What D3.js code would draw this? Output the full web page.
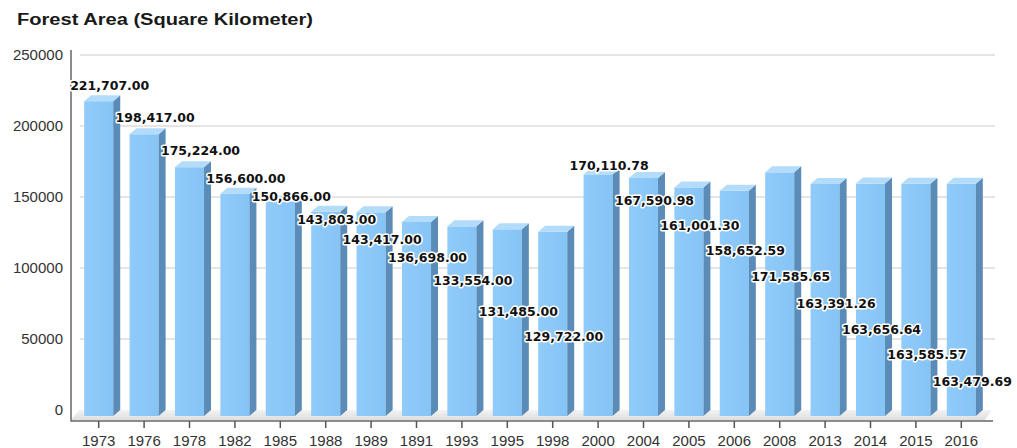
<!DOCTYPE html>
<html>
<head>
<meta charset="utf-8">
<script src="https://cdn.jsdelivr.net/npm/d3@7"></script>
<style>
  html, body { margin: 0; padding: 0; background: #ffffff; }
  svg { display: block; }
</style>
</head>
<body>
<svg id="chart" width="1017" height="448"></svg>
<script>
// ---- data ----
const categories = ["1973","1976","1978","1982","1985","1988","1989","1891","1993","1995","1998",
                    "2000","2004","2005","2006","2008","2013","2014","2015","2016"];
const forestArea = [221707.00, 198417.00, 175224.00, 156600.00, 150866.00, 143803.00, 143417.00,
                    136698.00, 133554.00, 131485.00, 129722.00, 170110.78, 167590.98, 161001.30,
                    158652.59, 171585.65, 163391.26, 163656.64, 163585.57, 163479.69];
// value (in axis units) at which each data label sits
const labelAnchor = [227500, 205600, 181700, 162000, 149300, 133800, 119700, 107000, 90800, 69000,
                     51400, 171800, 146500, 128900, 111300, 93000, 74600, 56300, 38700, 19700];
const yTickValues = [0, 50000, 100000, 150000, 200000, 250000];
const chartTitle = "Forest Area (Square Kilometer)";

// ---- layout ----
const svg = d3.select("#chart");
const floorY = 410, dx = 7, dy = 6;
const x = d3.scaleBand().domain(categories).range([76, 984]).paddingInner(0.36).paddingOuter(0.18);
const y = d3.scaleLinear().domain([0, 250000]).range([floorY, 55]);
const bw = x.bandwidth();

const defs = svg.append("defs");
const fg = defs.append("linearGradient").attr("id", "floorGrad").attr("x1", 0).attr("y1", 0).attr("x2", 0).attr("y2", 1);
fg.append("stop").attr("offset", "0%").attr("stop-color", "#f3f3f3");
fg.append("stop").attr("offset", "100%").attr("stop-color", "#dedede");
const frontGrad = defs.append("linearGradient").attr("id", "frontGrad").attr("x1", 0).attr("y1", 0).attr("x2", 1).attr("y2", 0);
frontGrad.append("stop").attr("offset", "0%").attr("stop-color", "#90cbf9");
frontGrad.append("stop").attr("offset", "100%").attr("stop-color", "#86c4f6");

// title
svg.append("text")
  .attr("x", 17).attr("y", 25)
  .attr("font-family", "Liberation Sans, Arial, sans-serif")
  .attr("font-weight", "bold").attr("font-size", 16)
  .attr("fill", "#1a1a1a")
  .attr("textLength", 296).attr("lengthAdjust", "spacingAndGlyphs")
  .text(chartTitle);

// gridlines (back wall)
svg.append("g").selectAll("line").data(yTickValues.filter(d => d > 0)).join("line")
  .attr("x1", 80).attr("x2", 995)
  .attr("y1", d => y(d)).attr("y2", d => y(d))
  .attr("stroke", "#dcdcdc").attr("stroke-width", 1.5);

// floor
svg.append("polygon")
  .attr("points", [[71, floorY + 10], [79, floorY], [992, floorY], [985, floorY + 10]].map(p => p.join(",")).join(" "))
  .attr("fill", "url(#floorGrad)");

// y tick labels
svg.append("g").selectAll("text").data(yTickValues).join("text")
  .attr("x", 63).attr("y", d => y(d) + 1)
  .attr("text-anchor", "end").attr("dominant-baseline", "middle")
  .attr("font-family", "Liberation Sans, Arial, sans-serif").attr("font-size", 15)
  .attr("fill", "#333")
  .text(d => d);

// bars
const bars = svg.append("g").selectAll("g").data(categories).join("g");
bars.append("rect")
  .attr("x", d => x(d))
  .attr("y", (d, i) => y(forestArea[i]) + dy)
  .attr("width", bw)
  .attr("height", (d, i) => floorY - y(forestArea[i]))
  .attr("fill", "url(#frontGrad)");
bars.append("polygon")
  .attr("points", (d, i) => {
    const x0 = x(d) + bw, t = y(forestArea[i]);
    return [[x0, t + dy], [x0 + dx, t], [x0 + dx, floorY], [x0, floorY + dy]].map(p => p.join(",")).join(" ");
  })
  .attr("fill", "#5b8cb7");
bars.append("polygon")
  .attr("points", (d, i) => {
    const x0 = x(d), t = y(forestArea[i]);
    return [[x0, t + dy], [x0 + dx, t], [x0 + bw + dx, t], [x0 + bw, t + dy]].map(p => p.join(",")).join(" ");
  })
  .attr("fill", "#b3dbfa");

// axes lines
svg.append("line").attr("x1", 71).attr("x2", 71).attr("y1", 50).attr("y2", 421.5)
  .attr("stroke", "#666").attr("stroke-width", 1.5);
svg.append("line").attr("x1", 71).attr("x2", 993).attr("y1", 421).attr("y2", 421)
  .attr("stroke", "#666").attr("stroke-width", 1.5);

// x ticks + labels
const xt = svg.append("g").selectAll("g").data(categories).join("g")
  .attr("transform", d => `translate(${x(d) + bw / 2},0)`);
xt.append("line").attr("y1", 421).attr("y2", 428).attr("stroke", "#555").attr("stroke-width", 1.5);
xt.append("text").attr("y", 446).attr("text-anchor", "middle")
  .attr("font-family", "Liberation Sans, Arial, sans-serif").attr("font-size", 15)
  .attr("fill", "#333").text(d => d);

// data labels
const fmt = d3.format(",.2f");
svg.append("g").selectAll("text").data(categories).join("text")
  .attr("x", d => x(d) + bw / 2 + 11)
  .attr("y", (d, i) => y(labelAnchor[i]))
  .attr("text-anchor", "middle").attr("dominant-baseline", "middle")
  .attr("font-family", "DejaVu Sans, Verdana, sans-serif").attr("font-weight", "bold").attr("font-size", 12.5)
  .attr("fill", "#111")
  .attr("stroke", "#ffffff").attr("stroke-width", 3).attr("stroke-linejoin", "round")
  .attr("paint-order", "stroke")
  .text((d, i) => fmt(forestArea[i]));
</script>
</body>
</html>
